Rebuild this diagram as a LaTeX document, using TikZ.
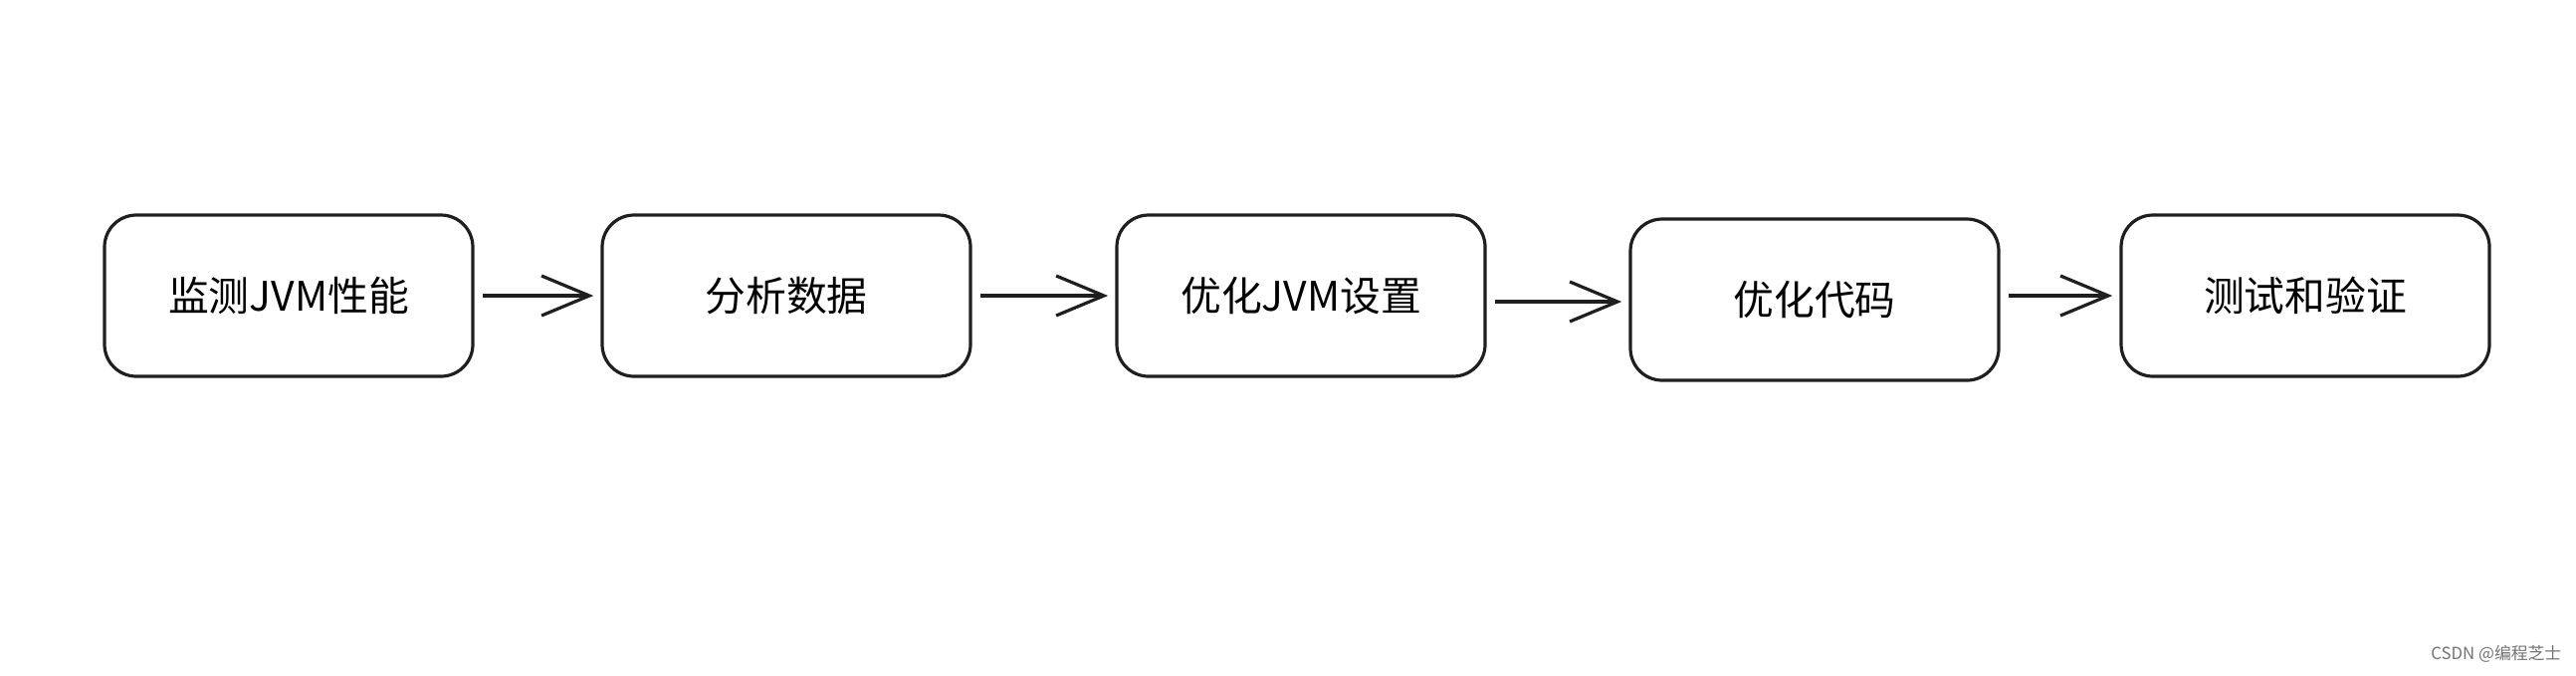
\documentclass[tikz,border=0pt]{standalone}
\usepackage{fontspec}
\setmainfont{Noto Sans CJK SC}
\usetikzlibrary{arrows.meta}
\begin{document}
\begin{tikzpicture}[x=0.25pt,y=-0.25pt,
  stepbox/.style={draw=black!88, line width=0.8pt, rounded corners=8pt, fill=white,
    minimum width=92.5pt, minimum height=40.5pt, inner sep=0pt, font=\fontsize{10.2}{12}\selectfont},
  conn/.style={draw=black!88, line width=0.8pt, shorten <=2.2pt, shorten >=1.8pt,
    -{Straight Barb[length=12pt,width=10pt,line width=0.8pt]}}]
\useasboundingbox (0,0) rectangle (2588,678);
\fill[white] (0,0) rectangle (2588,678);
\node[stepbox] (n1) at (290,297) {监测JVM性能};
\node[stepbox] (n2) at (790,297) {分析数据};
\node[stepbox] (n3) at (1307,297) {优化JVM设置};
\node[stepbox] (n4) at (1823,301) {优化代码};
\node[stepbox] (n5) at (2316,297) {测试和验证};
\coordinate (a3) at ([yshift=-1.5pt]n3.east);
\coordinate (a4) at ([yshift=1pt]n4.east);
\draw[conn] (n1.east) -- (n2.west);
\draw[conn] (n2.east) -- (n3.west);
\draw[conn] (a3) -- (a3 -| n4.west);
\draw[conn] (a4) -- (a4 -| n5.west);
\node[text=black!55, font=\fontsize{4.2}{5}\selectfont, anchor=east, inner sep=0pt] (wm) at (2574,657) {CSDN @编程芝士};
\end{tikzpicture}
\end{document}
